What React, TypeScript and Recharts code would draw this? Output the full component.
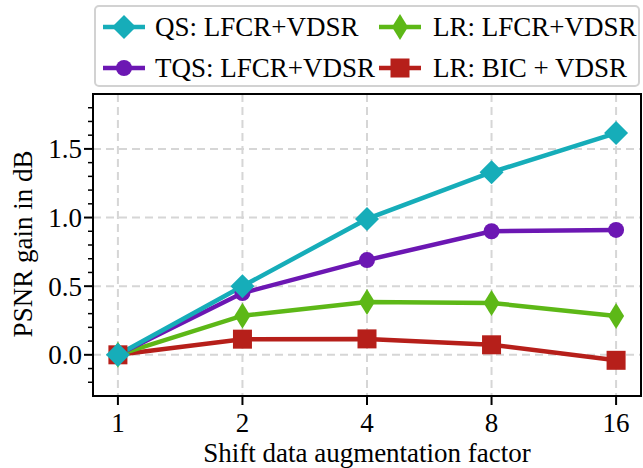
import React from 'react';
import { LineChart, Line, XAxis, YAxis, CartesianGrid, Legend, ReferenceArea } from 'recharts';

const factors = ['1', '2', '4', '8', '16'];
const qsGain = [0, 0.5, 0.99, 1.33, 1.615];
const tqsGain = [0, 0.45, 0.69, 0.9, 0.91];
const lrGain = [0, 0.285, 0.385, 0.378, 0.283];
const bicGain = [0, 0.114, 0.116, 0.073, -0.04];
const majorYTicks = [0, 0.5, 1.0, 1.5];
const allYTicks = [-0.2, -0.1, 0, 0.1, 0.2, 0.3, 0.4, 0.5, 0.6, 0.7, 0.8, 0.9, 1.0, 1.1, 1.2, 1.3, 1.4, 1.5, 1.6, 1.7, 1.8];

const FONT = '"Liberation Serif", "Times New Roman", serif';

const series = [
  { key: 'qs', name: 'QS: LFCR+VDSR', color: '#16adb9', marker: 'diamond' },
  { key: 'tqs', name: 'TQS: LFCR+VDSR', color: '#6c17b3', marker: 'circle' },
  { key: 'lr', name: 'LR: LFCR+VDSR', color: '#5db817', marker: 'thin' },
  { key: 'bic', name: 'LR: BIC + VDSR', color: '#b61f1a', marker: 'square' },
];

const data = factors.map((f, i) => ({
  x: i,
  qs: qsGain[i],
  tqs: tqsGain[i],
  lr: lrGain[i],
  bic: bicGain[i],
}));

function markerShape(kind: string, cx: number, cy: number, color: string) {
  if (kind === 'diamond') {
    const r = 12;
    return <polygon points={`${cx},${cy - r} ${cx + r},${cy} ${cx},${cy + r} ${cx - r},${cy}`} fill={color} />;
  }
  if (kind === 'thin') {
    return <polygon points={`${cx},${cy - 13} ${cx + 8},${cy} ${cx},${cy + 13} ${cx - 8},${cy}`} fill={color} />;
  }
  if (kind === 'square') {
    return <rect x={cx - 9.5} y={cy - 9.5} width={19} height={19} fill={color} />;
  }
  return <circle cx={cx} cy={cy} r={8} fill={color} />;
}

// y ticks: long tick + label on majors, short tick on minors
function YTick(p: any) {
  const v = p.payload.value;
  const major = majorYTicks.some((m) => Math.abs(m - v) < 1e-6);
  const axisX = p.x + 11;
  const len = major ? 9 : 5;
  return (
    <g>
      <line x1={axisX - len} x2={axisX} y1={p.y} y2={p.y} stroke="#000" strokeWidth={major ? 2 : 1.5} />
      {major && (
        <text x={p.x} y={p.y} dy="0.355em" textAnchor="end" style={{ fontSize: 27, fill: '#000', fontFamily: FONT }}>
          {v.toFixed(1)}
        </text>
      )}
    </g>
  );
}

function LegendBox() {
  const spots = [
    { left: 7, top: 20, textLeft: 59 },
    { left: 7, top: 61, textLeft: 59 },
    { left: 283, top: 20, textLeft: 337 },
    { left: 283, top: 61, textLeft: 337 },
  ];
  return (
    <div
      style={{
        position: 'relative',
        width: 546,
        height: 82,
        boxSizing: 'border-box',
        border: '2px solid #d2d2d2',
        borderRadius: 5,
        background: '#fff',
        fontFamily: FONT,
        fontSize: 27,
        color: '#000',
      }}
    >
      {series.map((s, i) => (
        <React.Fragment key={s.key}>
          <svg
            width={42}
            height={30}
            style={{ position: 'absolute', left: spots[i].left, top: spots[i].top - 15 }}
          >
            <line x1={0} y1={15} x2={42} y2={15} stroke={s.color} strokeWidth={4.5} />
            {markerShape(s.marker, 21, 15, s.color)}
          </svg>
          <span
            style={{
              position: 'absolute',
              left: spots[i].textLeft,
              top: spots[i].top - 16,
              lineHeight: '32px',
              whiteSpace: 'nowrap',
            }}
          >
            {s.name}
          </span>
        </React.Fragment>
      ))}
    </div>
  );
}

const drawOrder = ['bic', 'lr', 'tqs', 'qs'];

export default function App() {
  const tickStyle = { fontSize: 27, fill: '#000', fontFamily: FONT };
  return (
    <div style={{ position: 'absolute', left: 0, top: 0, width: 643, height: 468, background: '#fff' }}>
      <LineChart width={643} height={468} data={data} margin={{ top: 94, right: 2, left: 0, bottom: 0 }}>
        <CartesianGrid stroke="#d6d6d6" strokeWidth={2} strokeDasharray="8 5" horizontalValues={majorYTicks} />
        <XAxis
          dataKey="x"
          type="number"
          domain={[-0.2, 4.2]}
          ticks={[0, 1, 2, 3, 4]}
          tickFormatter={(v: number) => factors[v]}
          allowDataOverflow
          height={72}
          stroke="#000"
          axisLine={{ stroke: '#000', strokeWidth: 2 }}
          tickLine={{ stroke: '#000', strokeWidth: 2 }}
          tickSize={9}
          tickMargin={8}
          tick={tickStyle}
          label={{
            value: 'Shift data augmentation factor',
            position: 'insideBottom',
            offset: 6,
            style: { fontSize: 27, fill: '#000', fontFamily: FONT },
          }}
        />
        <YAxis
          type="number"
          domain={[-0.3, 1.9]}
          ticks={allYTicks}
          allowDataOverflow
          interval={0}
          width={93}
          axisLine={{ stroke: '#000', strokeWidth: 2 }}
          tickLine={false}
          tickSize={9}
          tickMargin={2}
          tick={<YTick />}
          label={{
            content: () => (
              <text
                x={23}
                y={244}
                transform="rotate(-90, 23, 244)"
                textAnchor="middle"
                dominantBaseline="central"
                style={{ fontSize: 27, fill: '#000', fontFamily: FONT }}
              >
                PSNR gain in dB
              </text>
            ),
          }}
        />
        <ReferenceArea x1={-0.2} x2={4.2} y1={-0.3} y2={1.9} fill="none" stroke="#000" strokeWidth={2} ifOverflow="visible" />
        <Legend
          layout="vertical"
          align="center"
          verticalAlign="middle"
          wrapperStyle={{ top: 5, left: 94, width: 546, height: 82 }}
          content={() => <LegendBox />}
        />
        {drawOrder.map((k) => {
          const s = series.find((x) => x.key === k)!;
          return (
            <Line
              key={s.key}
              dataKey={s.key}
              name={s.name}
              type="linear"
              stroke={s.color}
              strokeWidth={4.5}
              isAnimationActive={false}
              dot={(p: any) => <g key={`${s.key}-${p.index}`}>{markerShape(s.marker, p.cx, p.cy, s.color)}</g>}
              activeDot={false}
            />
          );
        })}
      </LineChart>
    </div>
  );
}
